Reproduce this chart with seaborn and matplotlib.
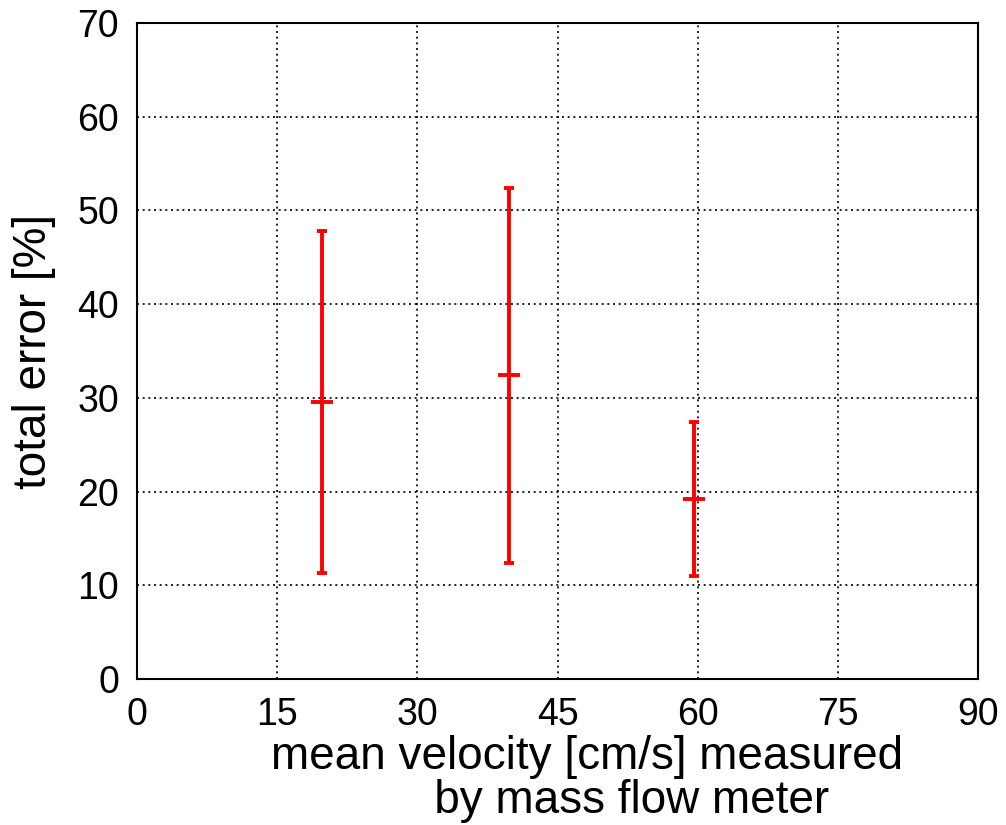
import pandas as pd
from matplotlib import pyplot as plt
import seaborn as sns

# mean velocity [cm/s] and total error [%]
velocity = [19.8, 39.8, 59.6]
error_mean = [29.6, 32.4, 19.2]
error_low = [11.3, 12.4, 11.0]
error_high = [47.8, 52.4, 27.4]

x_ticks = [0, 15, 30, 45, 60, 75, 90]
y_ticks = [0, 10, 20, 30, 40, 50, 60, 70]


def main():
    df = pd.DataFrame({"velocity": velocity, "error": error_mean,
                       "low": error_low, "high": error_high})

    sns.set_style("white")
    plt.rcParams["font.family"] = ["Liberation Sans", "DejaVu Sans"]

    fig = plt.figure(figsize=(10.06, 8.25), dpi=100)
    ax = fig.add_axes([0.1362, 0.177, 0.836, 0.795])

    # vertical bars from low to high, with caps
    yerr = [df["error"] - df["low"], df["high"] - df["error"]]
    ax.errorbar(df["velocity"], df["error"], yerr=yerr, fmt="none",
                ecolor="#ff0000", elinewidth=2.8, capsize=3.8, capthick=2.8, zorder=3)
    # centre marks
    sns.scatterplot(x="velocity", y="error", data=df, ax=ax, marker="_",
                    s=230, color="#ff0000", linewidth=2.8, zorder=4)

    ax.set_xlim(0, 90)
    ax.set_ylim(0, 70)
    ax.set_xticks(x_ticks)
    ax.set_yticks(y_ticks)
    ax.grid(True, color="black", linestyle=(0, (1.2, 2.2)), linewidth=1.2)
    ax.set_axisbelow(True)
    for spine in ax.spines.values():
        spine.set_color("black")
        spine.set_linewidth(1.5)
    ax.tick_params(axis="both", length=0, labelsize=27, pad=13, colors="black")

    ax.set_xlabel("mean velocity [cm/s] measured\n       by mass flow meter", fontsize=33,
                  linespacing=1.0, color="black")
    ax.xaxis.set_label_coords(0.535, -0.085, transform=ax.transAxes)
    ax.xaxis.label.set_va("top")
    ax.set_ylabel("total error [%]", fontsize=33, color="black")
    ax.yaxis.set_label_coords(-0.122, 0.5, transform=ax.transAxes)
    ax.yaxis.label.set_va("center")

    fig.savefig("out.png", dpi=100)


if __name__ == "__main__":
    main()
